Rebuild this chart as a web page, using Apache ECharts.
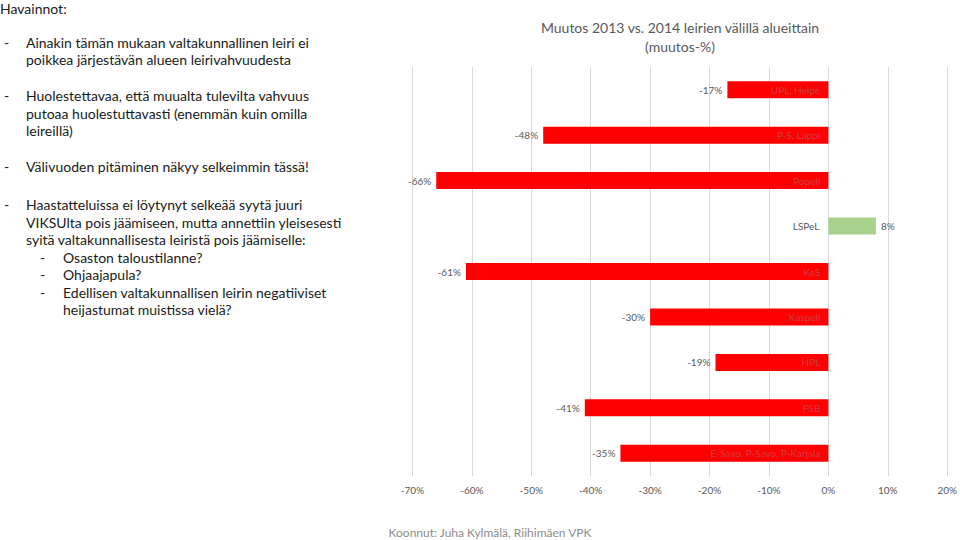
<!DOCTYPE html>
<html>
<head>
<meta charset="utf-8">
<style>html,body{margin:0;padding:0;background:#fff;}#chart{width:960px;height:540px;}</style>
<script src="https://cdn.jsdelivr.net/npm/echarts@6/dist/echarts.min.js"></script>
</head>
<body>
<div id="chart"></div>
<script>
const categories = ['UPL, Helpe', 'P-S, Lappi', 'Popeli', 'LSPeL', 'KeS', 'Kaspeli', 'HPL', 'FSB', 'E-Savo, P-Savo, P-Karjala'];
const changes = [-17, -48, -66, 8, -61, -30, -19, -41, -35];
const axisMin = -70, axisMax = 20, axisStep = 10;
const titleLines = ['Muutos 2013 vs. 2014 leirien välillä alueittain', '(muutos-%)'];
const footerText = 'Koonnut: Juha Kylmälä, Riihimäen VPK';
const notesHeading = 'Havainnot:';
const notes = [
  {level: 1, lines: ['Ainakin tämän mukaan valtakunnallinen leiri ei', 'poikkea järjestävän alueen leirivahvuudesta']},
  {level: 1, lines: ['Huolestettavaa, että muualta tulevilta vahvuus', 'putoaa huolestuttavasti (enemmän kuin omilla', 'leireillä)']},
  {level: 1, lines: ['Välivuoden pitäminen näkyy selkeimmin tässä!']},
  {level: 1, lines: ['Haastatteluissa ei löytynyt selkeää syytä juuri', 'VIKSUlta pois jäämiseen, mutta annettiin yleisesesti', 'syitä valtakunnallisesta leiristä pois jäämiselle:']},
  {level: 2, lines: ['Osaston taloustilanne?']},
  {level: 2, lines: ['Ohjaajapula?']},
  {level: 2, lines: ['Edellisen valtakunnallisen leirin negatiiviset', 'heijastumat muistissa vielä?']}
];
const noteGapsBefore = [34, 36, 36, 38, 17.8, 17.5, 17.5];

const FONT = 'Lato, "Open Sans", sans-serif';
const RED = '#ff0000', GREEN = '#a9d18e';
const TXT = '#1a1a1a';

const chart = echarts.init(document.getElementById('chart'), null, {renderer: 'svg'});

const graphics = [];
graphics.push({type: 'text', x: 0, y: 8, style: {text: notesHeading, font: '14px ' + FONT, fill: TXT, textVerticalAlign: 'middle'}});
let y = 8;
notes.forEach((n, i) => {
  y += noteGapsBefore[i];
  const dashX = n.level === 1 ? 4 : 40;
  const textX = n.level === 1 ? 26 : 63;
  graphics.push({type: 'text', x: dashX, y: y, style: {text: '-', font: '14px ' + FONT, fill: TXT, textVerticalAlign: 'middle'}});
  n.lines.forEach((ln, j) => {
    if (j > 0) y += 17.5;
    graphics.push({type: 'text', x: textX, y: y, style: {text: ln, font: '14px ' + FONT, fill: TXT, textVerticalAlign: 'middle'}});
  });
});
titleLines.forEach((t, i) => {
  graphics.push({type: 'text', x: 680, y: 27 + i * 19, style: {text: t, font: '14px ' + FONT, fill: '#595959', textAlign: 'center', textVerticalAlign: 'middle'}});
});
graphics.push({type: 'text', x: 490, y: 532, style: {text: footerText, font: '12px ' + FONT, fill: '#8c8c8c', textAlign: 'center', textVerticalAlign: 'middle'}});

chart.setOption({
  animation: false,
  backgroundColor: '#ffffff',
  grid: {left: 412.5, right: 9, top: 67, bottom: 64, containLabel: false},
  xAxis: {
    type: 'value', min: axisMin, max: axisMax, interval: axisStep,
    axisLine: {show: false}, axisTick: {show: false},
    axisLabel: {formatter: '{value}%', color: '#595959', fontSize: 10, fontFamily: FONT, margin: 9},
    splitLine: {show: true, lineStyle: {color: '#d9d9d9', width: 1}}
  },
  yAxis: {
    type: 'category', data: categories, inverse: true,
    axisLine: {show: false}, axisTick: {show: false}, axisLabel: {show: false}
  },
  series: [{
    type: 'bar',
    barWidth: 17,
    data: changes.map(v => ({
      value: v,
      itemStyle: {color: v < 0 ? RED : GREEN},
      label: {position: v < 0 ? 'left' : 'right'}
    })),
    label: {show: true, distance: 5, formatter: p => p.value + '%', color: '#595959', fontSize: 10, fontFamily: FONT}
  }, {
    type: 'bar',
    barWidth: 17,
    barGap: '-100%',
    silent: true,
    z: 3,
    data: changes.map(v => ({
      value: v,
      itemStyle: {color: 'rgba(0,0,0,0)'},
      label: {position: v < 0 ? 'insideRight' : 'left', color: v < 0 ? '#c84040' : '#595959', distance: v < 0 ? 8 : 9}
    })),
    label: {show: true, formatter: p => p.name, fontSize: 10, fontFamily: FONT}
  }],
  graphic: graphics
});
</script>
</body>
</html>
